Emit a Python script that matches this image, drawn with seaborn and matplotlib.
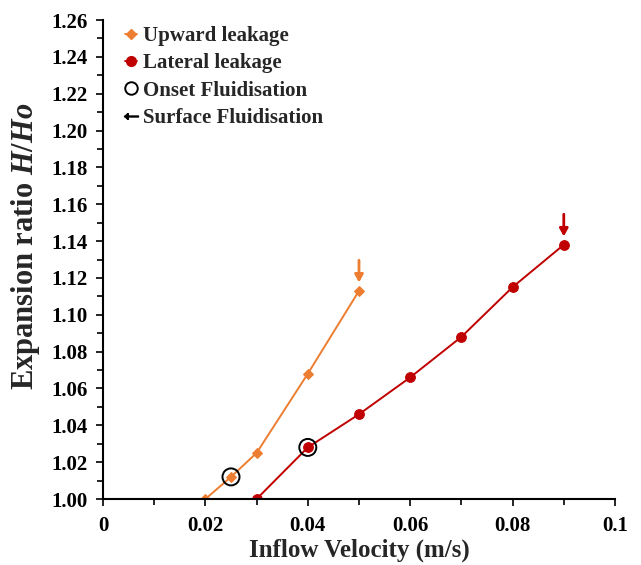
import matplotlib
matplotlib.use("Agg")
import matplotlib.pyplot as plt
from matplotlib.lines import Line2D
from matplotlib.ticker import MultipleLocator
import seaborn as sns
import pandas as pd

# values
upward_velocity = [0.02, 0.025, 0.03, 0.04, 0.05]
upward_ratio = [1.000, 1.012, 1.025, 1.068, 1.113]

lateral_velocity = [0.03, 0.04, 0.05, 0.06, 0.07, 0.08, 0.09]
lateral_ratio = [1.000, 1.028, 1.046, 1.066, 1.088, 1.115, 1.138]

onset_velocity = [0.025, 0.04]
onset_ratio = [1.012, 1.028]

x_tick_labels = ["0", "0.02", "0.04", "0.06", "0.08", "0.1"]

ORANGE = "#ED7D31"
RED = "#C00000"

sns.set_style("white")
plt.rcParams["font.family"] = ["Liberation Serif", "DejaVu Serif"]
plt.rcParams["font.weight"] = "bold"
plt.rcParams["mathtext.fontset"] = "custom"
plt.rcParams["mathtext.rm"] = "Liberation Serif:bold"
plt.rcParams["mathtext.bf"] = "Liberation Serif:bold"
plt.rcParams["mathtext.it"] = "Liberation Serif:italic:bold"

fig = plt.figure(figsize=(6.41, 5.65), dpi=100)
ax = fig.add_axes([0.1607, 0.1168, 0.7987, 0.8478])

up_df = pd.DataFrame({"v": upward_velocity, "h": upward_ratio})
lat_df = pd.DataFrame({"v": lateral_velocity, "h": lateral_ratio})

sns.lineplot(data=up_df, x="v", y="h", ax=ax, color=ORANGE, marker="D",
             markersize=5, markeredgecolor=ORANGE, linewidth=1.4, sort=False)
sns.lineplot(data=lat_df, x="v", y="h", ax=ax, color=RED, marker="o",
             markersize=7, markeredgecolor=RED, linewidth=1.4, sort=False)
ax.scatter(onset_velocity, onset_ratio, s=150, facecolors="none",
           edgecolors="black", linewidths=1.4, zorder=5)

# surface fluidisation arrows above the last point of each series
for xs, ys, col in [(upward_velocity, upward_ratio, ORANGE),
                    (lateral_velocity, lateral_ratio, RED)]:
    ax.annotate("", xy=(xs[-1], ys[-1]), xytext=(0, 22),
                textcoords="offset points", xycoords="data",
                arrowprops=dict(arrowstyle="-|>,head_width=0.25,head_length=0.45",
                                color=col, lw=2, shrinkA=0, shrinkB=6))

ax.set_xlim(0, 0.1)
ax.set_ylim(1.0, 1.26)
ax.xaxis.set_minor_locator(MultipleLocator(0.01))
ax.yaxis.set_major_locator(MultipleLocator(0.02))
ax.yaxis.set_minor_locator(MultipleLocator(0.01))
ax.set_xticks([0, 0.02, 0.04, 0.06, 0.08, 0.1])
ax.set_xticklabels(x_tick_labels)
ax.set_yticklabels([f"{v:.2f}" for v in ax.get_yticks()])

for s in ["top", "right"]:
    ax.spines[s].set_visible(False)
for s in ["left", "bottom"]:
    ax.spines[s].set_color("black")
    ax.spines[s].set_linewidth(1.5)

ax.tick_params(axis="both", which="major", direction="out", length=5, width=1.2,
               labelsize=15, colors="black", pad=6)
ax.tick_params(axis="both", which="minor", direction="out", length=4, width=1.2,
               colors="black")
ax.tick_params(axis="x", which="major", pad=7)
ax.tick_params(bottom=True, left=True, which="both")

ax.set_xlabel("Inflow Velocity (m/s)", fontsize=18, fontweight="bold", labelpad=2)
ax.set_ylabel("Expansion ratio $\\mathit{H/Ho}$", fontsize=22, fontweight="bold")
ax.yaxis.set_label_coords(-0.12, 0.528)

handles = [
    Line2D([0], [0], color=ORANGE, marker="D", markersize=5, lw=1.3),
    Line2D([0], [0], color=RED, marker="o", markersize=7, lw=1.3),
    Line2D([0], [0], color="black", marker="o", markersize=9, lw=0,
           markerfacecolor="none", markeredgewidth=1.4),
    Line2D([0], [0], color="black", marker="$\\leftarrow$", markersize=10, lw=0),
]
labels = ["Upward leakage", "Lateral leakage", "Onset Fluidisation",
          "Surface Fluidisation"]
ax.legend(handles, labels, loc="upper left", bbox_to_anchor=(0.026, 1.005),
          frameon=False, handlelength=0.6, handletextpad=0.3, labelspacing=0.35,
          borderaxespad=0.0,
          prop={"family": "Liberation Serif", "weight": "bold", "size": 15})

fig.savefig("out.png", dpi=100)
